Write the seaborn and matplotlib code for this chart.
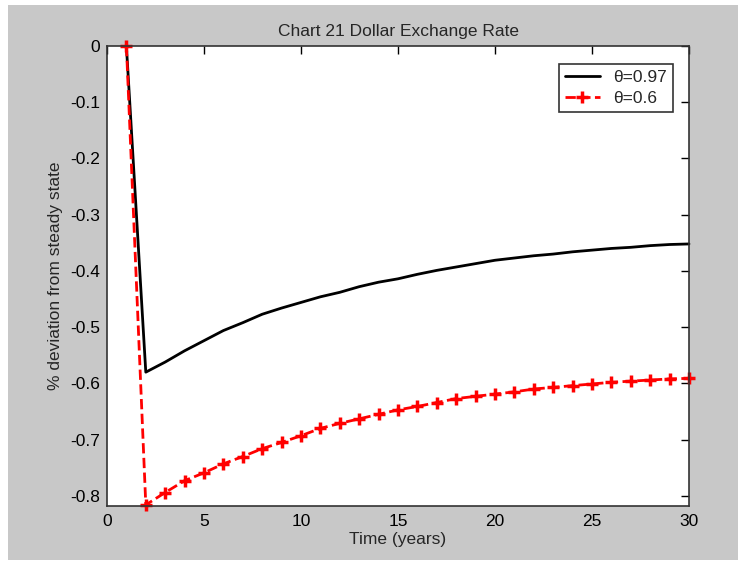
import numpy as np
import pandas as pd
import seaborn as sns
import matplotlib.pyplot as plt
from matplotlib.patches import Rectangle

# data
years = list(range(1, 31))
theta_097 = [0.0, -0.580, -0.562, -0.542, -0.524, -0.506, -0.492, -0.477, -0.466, -0.456,
             -0.446, -0.438, -0.428, -0.420, -0.414, -0.406, -0.399, -0.393, -0.387, -0.381,
             -0.377, -0.373, -0.370, -0.366, -0.363, -0.360, -0.358, -0.355, -0.353, -0.352]
theta_06 = [0.0, -0.816, -0.794, -0.773, -0.759, -0.743, -0.730, -0.716, -0.705, -0.693,
            -0.680, -0.671, -0.663, -0.655, -0.647, -0.641, -0.634, -0.627, -0.623, -0.619,
            -0.615, -0.610, -0.607, -0.604, -0.601, -0.598, -0.596, -0.594, -0.592, -0.591]
xticks = [0, 5, 10, 15, 20, 25, 30]
yticks = [0, -0.1, -0.2, -0.3, -0.4, -0.5, -0.6, -0.7, -0.8]

df = pd.DataFrame({"year": years, "a": theta_097, "b": theta_06})

sns.set_style("white")
plt.rcParams["font.family"] = ["Liberation Sans", "DejaVu Sans"]

fig = plt.figure(figsize=(7.46, 5.67), dpi=100)
fig.patch.set_facecolor("white")
fig.patches.append(Rectangle((8 / 746, 7 / 567), 730 / 746, 555 / 567, transform=fig.transFigure,
                             facecolor="#c8c8c8", edgecolor="none", zorder=-10))
ax = fig.add_axes([107 / 746, 1 - 506 / 567, 582 / 746, 460 / 567])

sns.lineplot(data=df, x="year", y="a", ax=ax, color="black", linewidth=2, label="θ=0.97",
             clip_on=False)
sns.lineplot(data=df, x="year", y="b", ax=ax, color="red", linewidth=2, linestyle="--",
             marker="+", markersize=8, markeredgewidth=2.5, markeredgecolor="red",
             label="θ=0.6", clip_on=False)

ax.set_xlim(0, 30)
ax.set_ylim(-0.818, 0)
ax.set_xticks(xticks)
ax.set_yticks(yticks)
ax.set_yticklabels(["0", "-0.1", "-0.2", "-0.3", "-0.4", "-0.5", "-0.6", "-0.7", "-0.8"])
ax.tick_params(direction="in", length=6, width=1, top=True, right=True, labelsize=12.5,
               colors="black", pad=5)
ax.tick_params(axis="x", pad=6)
for s in ax.spines.values():
    s.set_color("#333333")
    s.set_linewidth(1.2)

ax.set_title("Chart 21 Dollar Exchange Rate", fontsize=12.5, pad=7)
ax.set_xlabel("Time (years)", fontsize=12.5, labelpad=2)
ax.set_ylabel("% deviation from steady state", fontsize=12.5, labelpad=5)

leg = ax.legend(loc="upper right", fontsize=12.5, fancybox=False, framealpha=1,
                edgecolor="#333333", borderpad=0.35, handlelength=2.0, labelspacing=0.35,
                handletextpad=0.8, bbox_to_anchor=(0.988, 0.98))
leg.get_frame().set_linewidth(1.2)

fig.savefig("out.png", dpi=100, facecolor=fig.get_facecolor())
